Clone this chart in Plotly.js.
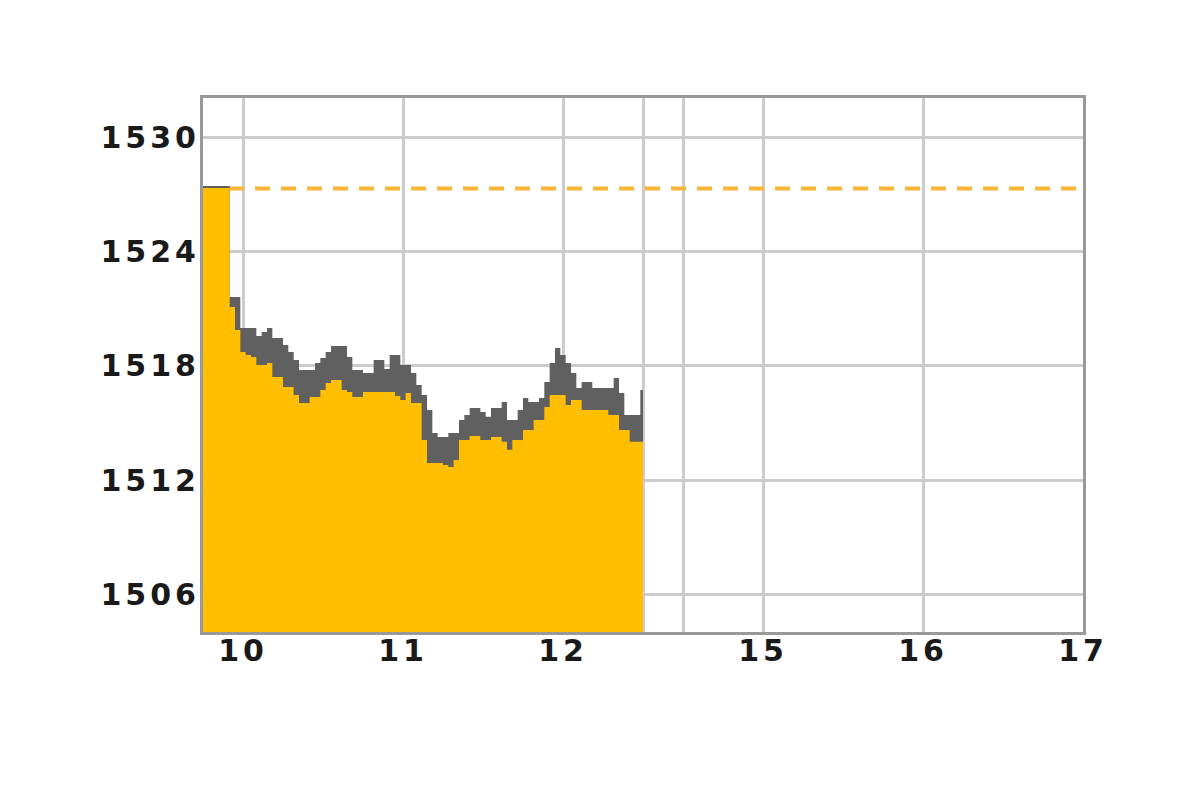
<!DOCTYPE html>
<html>
<head>
<meta charset="utf-8">
<script src="https://cdn.plot.ly/plotly-3.0.1.min.js"></script>
<style>
  html, body { margin: 0; padding: 0; background: #fff; }
  #graphDiv { width: 1200px; height: 799px; }
  .xtick text, .ytick text { letter-spacing: 4px; }
</style>
</head>
<body>
<div id="graphDiv"></div>
<script>
// morning session, 2-minute steps (last entry closes the final step at 12:30)
const times = [
    "09:45","09:47","09:49","09:51","09:53","09:55","09:57","09:59",
    "10:01","10:03","10:05","10:07","10:09","10:11","10:13","10:15","10:17","10:19",
    "10:21","10:23","10:25","10:27","10:29","10:31","10:33","10:35","10:37","10:39",
    "10:41","10:43","10:45","10:47","10:49","10:51","10:53","10:55","10:57","10:59",
    "11:01","11:03","11:05","11:07","11:09","11:11","11:13","11:15","11:17","11:19",
    "11:21","11:23","11:25","11:27","11:29","11:31","11:33","11:35","11:37","11:39",
    "11:41","11:43","11:45","11:47","11:49","11:51","11:53","11:55","11:57","11:59",
    "12:01","12:03","12:05","12:07","12:09","12:11","12:13","12:15","12:17","12:19",
    "12:21","12:23","12:25","12:27","12:29","12:30"
];
const highs = [
    1527.43,1527.43,1527.43,1527.43,1527.43,1521.61,1521.61,1519.99,
    1519.99,1519.99,1519.57,1519.78,1519.99,1519.47,1519.47,1519.10,1518.73,1518.31,
    1517.79,1517.79,1517.79,1518.15,1518.42,1518.73,1519.05,1519.05,1519.05,1518.47,
    1517.79,1517.79,1517.63,1517.63,1518.31,1518.31,1517.84,1518.57,1518.57,1518.05,
    1518.05,1517.63,1517.00,1516.48,1515.69,1514.49,1514.28,1514.28,1514.49,1514.49,
    1515.17,1515.43,1515.80,1515.80,1515.59,1515.33,1515.80,1515.80,1516.11,1515.17,
    1515.17,1515.69,1516.32,1516.11,1516.11,1516.32,1517.16,1518.15,1518.94,1518.57,
    1518.15,1517.63,1516.85,1517.16,1517.16,1516.85,1516.85,1516.85,1516.85,1517.37,
    1516.58,1515.43,1515.43,1515.43,1516.74,1516.74
];
const lows = [
    1527.33,1527.33,1527.33,1527.33,1527.33,1521.09,1519.88,1518.73,
    1518.57,1518.47,1518.05,1518.05,1518.15,1517.42,1517.42,1516.90,1516.90,1516.48,
    1516.06,1516.06,1516.37,1516.37,1516.74,1517.11,1517.26,1517.26,1516.74,1516.64,
    1516.37,1516.37,1516.64,1516.64,1516.64,1516.64,1516.64,1516.64,1516.43,1516.22,
    1516.58,1516.06,1516.06,1514.12,1512.91,1512.91,1512.91,1512.81,1512.70,1513.07,
    1514.12,1514.12,1514.33,1514.33,1514.12,1514.12,1514.28,1514.28,1514.02,1513.60,
    1514.12,1514.12,1514.64,1514.64,1515.17,1515.17,1515.85,1516.48,1516.48,1516.48,
    1515.95,1516.22,1516.22,1515.69,1515.69,1515.69,1515.69,1515.69,1515.43,1515.43,
    1514.64,1514.64,1514.02,1514.02,1514.02,1514.02
];
const prevClose = 1527.3;

// x axis: hours; the 12:30-14:30 lunch break is squeezed into 15 minutes
const xRange = [9.75, 15.25];
const xTickVals = [10, 11, 12, 12.5, 12.75, 13.25, 14.25, 15.25];
const xTickText = ["10", "11", "12", "", "", "15", "16", "17"];
const yRange = [1504.05, 1532.05];
const yTickVals = [1506, 1512, 1518, 1524, 1530];

function toHours(s) {
    const [h, m] = s.split(":").map(Number);
    return h + m / 60;
}

function onPageLoad() {
    const x = times.map(toHours);
    const traces = [
        {
            x: xRange, y: [prevClose, prevClose],
            mode: "lines", type: "scatter",
            line: {color: "#f8b638", width: 4, dash: "15px,11px"},
            hoverinfo: "skip"
        },
        {
            x: x, y: highs,
            mode: "lines", type: "scatter",
            line: {shape: "hv", width: 0, color: "#606060"},
            fill: "tozeroy", fillcolor: "#606060",
            hoverinfo: "skip"
        },
        {
            x: x, y: lows,
            mode: "lines", type: "scatter",
            line: {shape: "hv", width: 0, color: "#ffbf00"},
            fill: "tozeroy", fillcolor: "#ffbf00",
            hoverinfo: "skip"
        }
    ];
    const tickFont = {family: "DejaVu Sans", size: 30, weight: "bold", color: "#1a1a1a"};
    const layout = {
        width: 1200, height: 799,
        margin: {l: 203, r: 117, t: 98, b: 167, pad: 0},
        paper_bgcolor: "#fff", plot_bgcolor: "#fff",
        showlegend: false,
        xaxis: {
            range: xRange, tickmode: "array",
            tickvals: xTickVals, ticktext: xTickText,
            showgrid: true, gridcolor: "#cccccc", gridwidth: 3,
            zeroline: false, showline: true, mirror: true,
            linecolor: "#999999", linewidth: 3,
            ticks: "", tickfont: tickFont, ticklabelstandoff: -10,
            fixedrange: true
        },
        yaxis: {
            range: yRange, tickmode: "array", tickvals: yTickVals,
            showgrid: true, gridcolor: "#cccccc", gridwidth: 3,
            zeroline: false, showline: true, mirror: true,
            linecolor: "#999999", linewidth: 3,
            ticks: "", tickfont: tickFont, ticklabelstandoff: -6,
            fixedrange: true
        }
    };
    Plotly.newPlot("graphDiv", traces, layout, {displayModeBar: false, staticPlot: true});
}
onPageLoad();
</script>
</body>
</html>
